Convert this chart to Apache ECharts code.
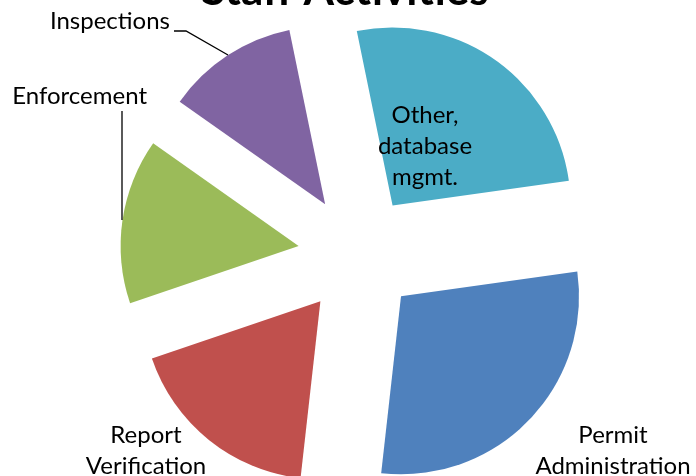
<!DOCTYPE html>
<html>
<head>
<meta charset="utf-8">
<script src="https://cdn.jsdelivr.net/npm/echarts@6/dist/echarts.min.js"></script>
<style>html,body{margin:0;padding:0;background:#fff;}#c{width:696px;height:476px;}</style>
</head>
<body>
<div id="c"></div>
<script>
// ---- data ----
var categories = ['Permit Administration', 'Report Verification', 'Enforcement', 'Inspections', 'Other, database mgmt.'];
var values = [29, 18, 15, 12, 26];
var labelTexts = ['Permit\nAdministration', 'Report\nVerification', 'Enforcement', 'Inspections', 'Other,\ndatabase\nmgmt.'];
var titleText = 'Staff Activities';

// ---- styles / layout (annotation positions) ----
var colors = ['#4F81BD', '#C0504D', '#9BBB59', '#8064A2', '#4BACC6'];
var labelPos = [
  {x: 613, y: 451, align: 'center'},
  {x: 146, y: 451, align: 'center'},
  {x: 147, y: 96, align: 'right'},
  {x: 170, y: 21, align: 'right'},
  {x: 425, y: 146, align: 'center'}
];
var leaderLines = [
  [[122, 111], [122, 220]],
  [[174, 31], [186, 31], [228, 55]]
];
var FONT_FAMILY = 'Lato, "Open Sans", sans-serif';
var LABEL_FONT = '24px ' + FONT_FAMILY;

var chart = echarts.init(document.getElementById('c'), null, {renderer: 'canvas'});
var data = categories.map(function (n, i) {
  return {name: n, value: values[i], selected: true, itemStyle: {color: colors[i]}};
});

var graphics = [];
labelTexts.forEach(function (t, i) {
  graphics.push({
    type: 'text',
    x: labelPos[i].x,
    y: labelPos[i].y,
    z: 100,
    style: {
      text: t,
      font: LABEL_FONT,
      fill: '#000',
      align: labelPos[i].align,
      verticalAlign: 'middle',
      textAlign: labelPos[i].align,
      textVerticalAlign: 'middle',
      lineHeight: 31
    }
  });
});
leaderLines.forEach(function (pts) {
  graphics.push({
    type: 'polyline',
    z: 100,
    shape: {points: pts},
    style: {stroke: '#000', lineWidth: 1.3, fill: null}
  });
});

chart.setOption({
  animation: false,
  title: {
    text: titleText,
    left: 340,
    textAlign: 'center',
    top: -36,
    textStyle: {fontFamily: FONT_FAMILY, fontWeight: 'bold', fontSize: 44, color: '#000'}
  },
  series: [{
    type: 'pie',
    center: [358, 254.5],
    radius: [0, 178],
    startAngle: 8,
    clockwise: true,
    selectedMode: 'multiple',
    selectedOffset: 60,
    avoidLabelOverlap: false,
    emphasis: {disabled: true},
    label: {show: false},
    labelLine: {show: false},
    data: data
  }],
  graphic: graphics
});
</script>
</body>
</html>
